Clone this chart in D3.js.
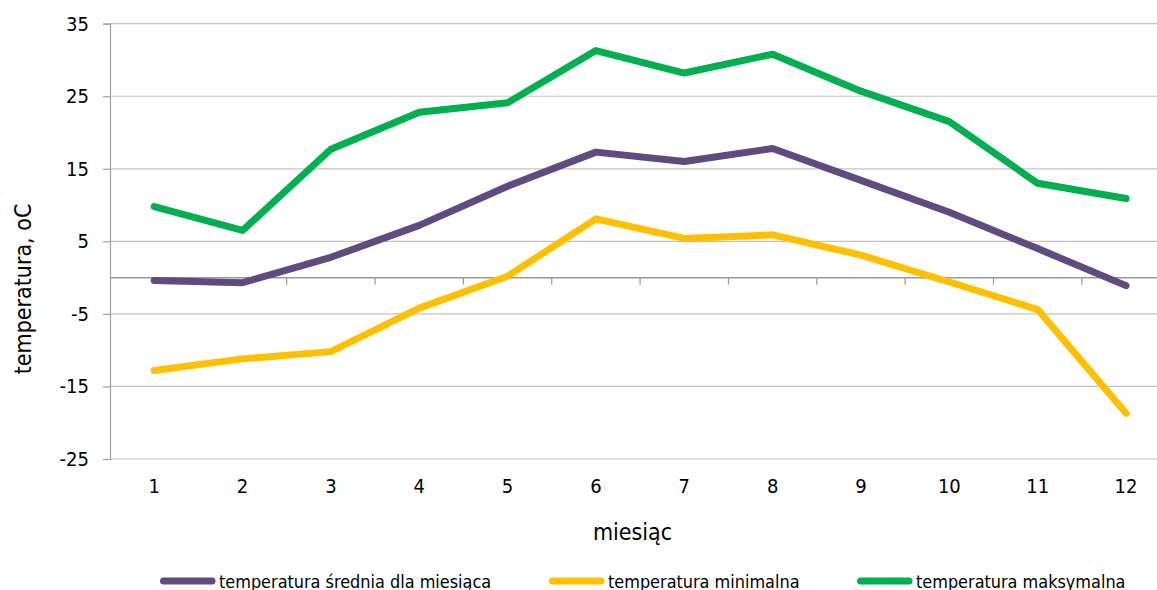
<!DOCTYPE html>
<html>
<head>
<meta charset="utf-8">
<script src="https://cdn.jsdelivr.net/npm/d3@7"></script>
<style>
  html, body { margin: 0; padding: 0; background: #fff; }
  svg { display: block; }
  text { font-family: "DejaVu Sans Condensed", "DejaVu Sans", sans-serif; font-stretch: condensed; fill: #000; }
</style>
</head>
<body>
<svg id="chart" width="1157" height="590"></svg>
<script>
const months = ["1","2","3","4","5","6","7","8","9","10","11","12"];
const tempAvg = [-0.4, -0.7, 2.8, 7.2, 12.6, 17.3, 16.0, 17.8, 13.4, 9.0, 4.0, -1.1];
const tempMin = [-12.8, -11.2, -10.2, -4.2, 0.2, 8.1, 5.4, 5.9, 3.1, -0.6, -4.4, -18.7];
const tempMax = [9.8, 6.5, 17.7, 22.8, 24.1, 31.3, 28.2, 30.8, 25.7, 21.5, 13.0, 10.9];
const yTicks = [-25, -15, -5, 5, 15, 25, 35];
const seriesNames = ["temperatura średnia dla miesiąca", "temperatura minimalna", "temperatura maksymalna"];
const seriesColors = ["#5F4B7F", "#FFC000", "#00B050"];
const xTitle = "miesiąc";
const yTitle = "temperatura, oC";

(function () {
const svg = d3.select("#chart");
const pLeft = 110, pRight = 1170.2, pTop = 23.7, pBottom = 459;
const FONT = '"DejaVu Sans Condensed", "DejaVu Sans", sans-serif';

const x = d3.scaleBand().domain(months).range([pLeft, pRight]).padding(0);
const y = d3.scaleLinear().domain([-25, 35]).range([pBottom, pTop]);

// gridlines
svg.append("g").selectAll("line").data(yTicks).join("line")
  .attr("x1", pLeft).attr("x2", pRight)
  .attr("y1", d => y(d)).attr("y2", d => y(d))
  .attr("stroke", "#C4C4C4").attr("stroke-width", 1.2);

// y axis
const yAxis = svg.append("g").attr("transform", `translate(${pLeft},0)`)
  .call(d3.axisLeft(y).tickValues(yTicks).tickSize(7).tickPadding(14).tickFormat(d => String(d)));
yAxis.select(".domain").attr("stroke", "#A0A0A0").attr("stroke-width", 1.2);
yAxis.selectAll(".tick line").attr("stroke", "#A0A0A0").attr("stroke-width", 1.2);
yAxis.selectAll(".tick text").attr("font-size", 20).attr("fill", "#000").style("font-family", FONT);

// zero axis with category boundary ticks
const xAxisG = svg.append("g").attr("transform", `translate(0,${y(0)})`);
xAxisG.append("line").attr("x1", pLeft).attr("x2", pRight).attr("y1", 0).attr("y2", 0)
  .attr("stroke", "#999").attr("stroke-width", 1.5);
xAxisG.selectAll("line.bt").data(months).join("line")
  .attr("class", "bt")
  .attr("x1", d => x(d) + x.bandwidth()).attr("x2", d => x(d) + x.bandwidth())
  .attr("y1", 0).attr("y2", 7)
  .attr("stroke", "#999").attr("stroke-width", 1.2);

// x tick labels at bottom
const xLab = svg.append("g").attr("transform", `translate(0,${pBottom})`)
  .call(d3.axisBottom(x).tickSize(0).tickPadding(20));
xLab.select(".domain").remove();
xLab.selectAll(".tick text").attr("font-size", 20).attr("fill", "#000").style("font-family", FONT);

// lines
const data = [tempAvg, tempMin, tempMax];
const line = d3.line().x((d, i) => x(months[i]) + x.bandwidth() / 2).y(d => y(d));
svg.append("g").selectAll("path").data(data).join("path")
  .attr("d", d => line(d))
  .attr("fill", "none")
  .attr("stroke", (d, i) => seriesColors[i])
  .attr("stroke-width", 7)
  .attr("stroke-linecap", "round")
  .attr("stroke-linejoin", "round");

// titles
svg.append("text").attr("x", 632.5).attr("y", 540).attr("text-anchor", "middle")
  .attr("font-size", 23).text(xTitle);
svg.append("text").attr("transform", "translate(23,289) rotate(-90)")
  .attr("text-anchor", "middle").attr("dominant-baseline", "central")
  .attr("font-size", 23).text(yTitle);

// legend
const legendX = [160, 549, 857];
const legend = svg.append("g").selectAll("g").data(seriesNames).join("g")
  .attr("transform", (d, i) => `translate(${legendX[i]},581)`);
legend.append("line").attr("x1", 3.5).attr("x2", 52).attr("y1", 0).attr("y2", 0)
  .attr("stroke", (d, i) => seriesColors[i]).attr("stroke-width", 7).attr("stroke-linecap", "round");
legend.append("text").attr("x", 59).attr("y", 0).attr("dominant-baseline", "central")
  .attr("font-size", 17.9).text(d => d);
})();
</script>
</body>
</html>
